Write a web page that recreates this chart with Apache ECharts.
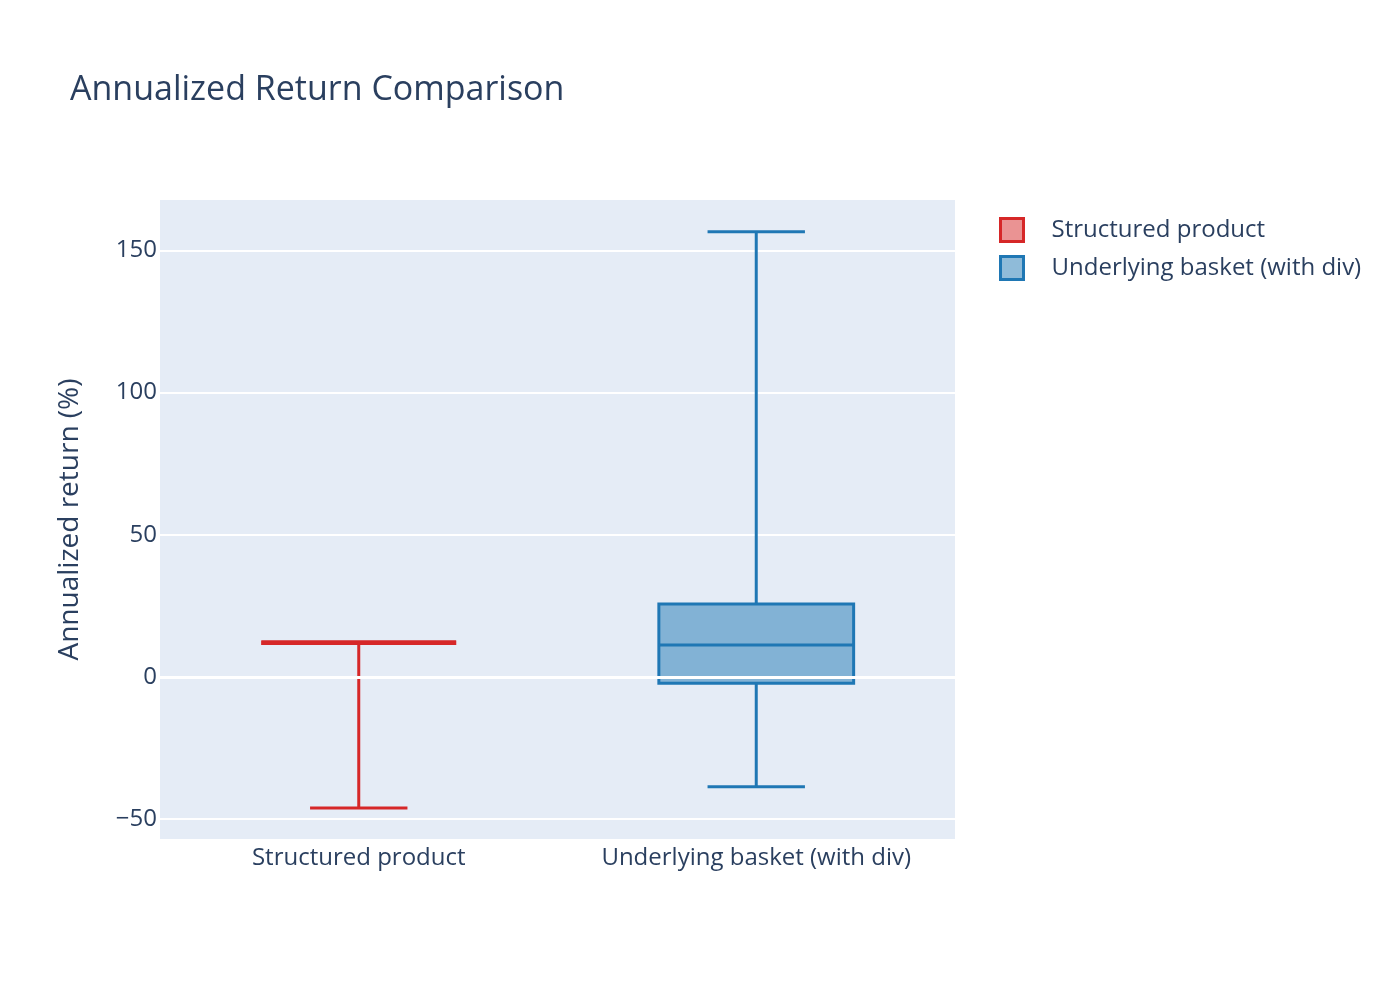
<!DOCTYPE html>
<html>
<head>
<meta charset="utf-8">
<script src="https://cdn.jsdelivr.net/npm/echarts@6/dist/echarts.min.js"></script>
<style>
html,body{margin:0;padding:0;background:#fff;}
#chart{width:1400px;height:1000px;}
</style>
</head>
<body>
<div id="chart"></div>
<script>
// ---- data ----
const categories = ['Structured product', 'Underlying basket (with div)'];
// [min, q1, median, q3, max]
const structuredStats = [-46.2, 12.0, 12.0, 12.0, 12.0];
const basketStats = [-38.7, -2.3, 11.2, 25.6, 156.6];
const yTicks = [-50, 0, 50, 100, 150];
const seriesNames = ['Structured product', 'Underlying basket (with div)'];
const lineColors = ['#d62728', '#1f77b4'];
const fillColors = ['rgba(214,39,40,0.5)', 'rgba(31,119,180,0.5)'];

const FONT = 'Open Sans';
const TXT = '#2a3f5f';

function renderBox(params, api) {
  const x = api.value(0);
  const mn = api.value(1), q1 = api.value(2), md = api.value(3), q3 = api.value(4), mx = api.value(5);
  const bw = api.size([1, 0])[0] * 0.49;
  const cw = bw / 2;
  const pMin = api.coord([x, mn]);
  const pQ1 = api.coord([x, q1]);
  const pMd = api.coord([x, md]);
  const pQ3 = api.coord([x, q3]);
  const pMx = api.coord([x, mx]);
  const cx = pMd[0];
  const col = lineColors[params.seriesIndex];
  const ls = { stroke: col, lineWidth: 3, fill: null };
  const flat = Math.abs(pQ1[1] - pQ3[1]) < 1;
  return {
    type: 'group',
    children: [
      { type: 'line', shape: { x1: cx, y1: pQ3[1], x2: cx, y2: pMx[1] }, style: ls },
      { type: 'line', shape: { x1: cx, y1: pQ1[1], x2: cx, y2: pMin[1] }, style: ls },
      { type: 'line', shape: { x1: cx - cw / 2, y1: pMx[1], x2: cx + cw / 2, y2: pMx[1] }, style: ls },
      { type: 'line', shape: { x1: cx - cw / 2, y1: pMin[1], x2: cx + cw / 2, y2: pMin[1] }, style: ls },
      { type: 'rect', shape: { x: cx - bw / 2, y: pQ3[1], width: bw, height: pQ1[1] - pQ3[1] },
        style: { fill: fillColors[params.seriesIndex], stroke: col, lineWidth: flat ? 4.5 : 3 } },
      { type: 'line', shape: { x1: cx - bw / 2, y1: pMd[1], x2: cx + bw / 2, y2: pMd[1] },
        style: { stroke: col, lineWidth: flat ? 4.5 : 3 } }
    ]
  };
}

const allStats = [structuredStats, basketStats];
const series = allStats.map((s, i) => ({
  name: seriesNames[i],
  type: 'custom',
  renderItem: renderBox,
  itemStyle: { color: fillColors[i], borderColor: lineColors[i], borderWidth: 3 },
  encode: { x: 0, y: [1, 2, 3, 4, 5] },
  data: [[i].concat(s)],
  z: 3
}));
series.push({
  type: 'line',
  data: [],
  silent: true,
  markLine: {
    silent: true,
    symbol: 'none',
    label: { show: false },
    lineStyle: { color: '#ffffff', width: 3, type: 'solid' },
    data: [{ yAxis: 0 }]
  },
  z: 1
});

const chart = echarts.init(document.getElementById('chart'), null, { renderer: 'canvas' });
chart.setOption({
  animation: false,
  backgroundColor: '#ffffff',
  textStyle: { fontFamily: FONT, color: TXT },
  title: {
    text: 'Annualized Return Comparison',
    left: 65, top: 68,
    textStyle: { fontFamily: FONT, fontSize: 34, fontWeight: 'normal', color: TXT }
  },
  legend: {
    orient: 'vertical',
    left: 999, top: 217,
    padding: 0,
    itemWidth: 23, itemHeight: 23,
    itemGap: 12,
    textStyle: { fontFamily: FONT, fontSize: 24, color: TXT, padding: [0, 0, 0, 23] },
    data: seriesNames.map((n, i) => ({
      name: n, icon: 'rect',
      itemStyle: { color: fillColors[i], borderColor: lineColors[i], borderWidth: 3 }
    }))
  },
  grid: {
    left: 160, right: 445, top: 200, bottom: 161,
    show: true, backgroundColor: '#e5ecf6', borderWidth: 0,
    containLabel: false
  },
  xAxis: {
    type: 'category',
    data: categories,
    axisLine: { show: false },
    axisTick: { show: false },
    splitLine: { show: false },
    axisLabel: { interval: 0, hideOverlap: false, fontFamily: FONT, fontSize: 24, color: TXT, margin: 7 }
  },
  yAxis: {
    type: 'value',
    min: -57.1, max: 167.8,
    name: 'Annualized return (%)',
    nameLocation: 'middle',
    nameGap: 76,
    nameTextStyle: { fontFamily: FONT, fontSize: 28, color: TXT },
    axisLine: { show: false },
    axisTick: { show: false, customValues: yTicks },
    splitLine: { show: true, lineStyle: { color: '#ffffff', width: 2 } },
    axisLabel: {
      customValues: yTicks,
      fontFamily: FONT, fontSize: 24, color: TXT, margin: 3,
      formatter: v => (v < 0 ? '\u2212' + Math.abs(v) : String(v))
    }
  },
  series: series
});
</script>
</body>
</html>
